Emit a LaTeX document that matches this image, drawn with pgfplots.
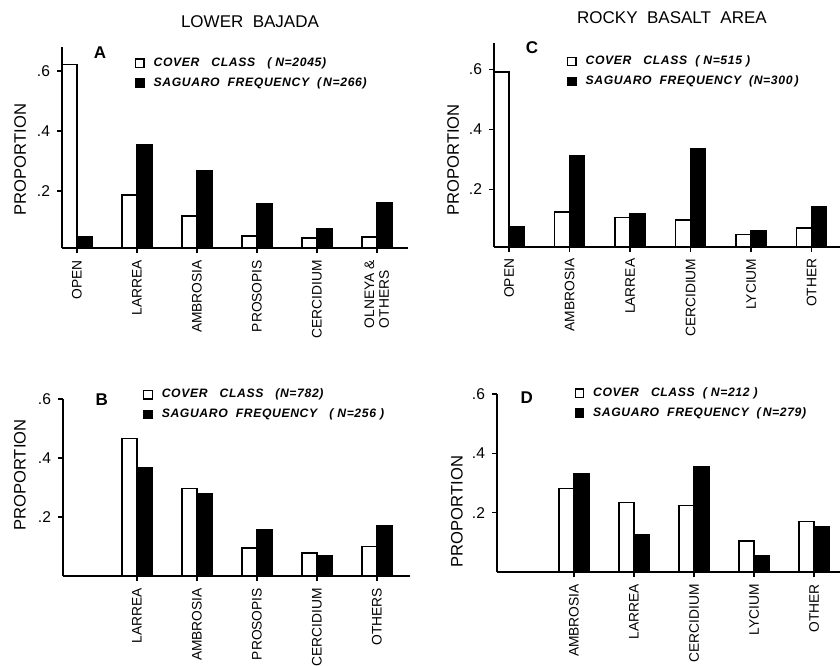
\documentclass[border=0pt]{standalone}
\usepackage{fontspec}
\setmainfont{Liberation Sans}
\newfontfamily\legfont[LetterSpace=5]{Liberation Sans}
\usepackage{pgfplots}
\pgfplotsset{compat=1.18}
\pgfplotsset{
  panel/.style={
    scale only axis, clip mode=individual,
    axis x line=bottom, axis y line=left,
    axis line style={-, line width=1pt, black},
    enlargelimits=false,
    ybar=0pt, bar width=7.5pt,
    tick align=outside, major tick length=2.5pt,
    tick style={black, line width=0.8pt},
    ytick={0.2,0.4,0.6}, yticklabels={.2,.4,.6},
    yticklabel style={font=\fontsize{7.8}{8}\selectfont},
    xticklabel style={rotate=90, anchor=east, align=left, font=\fontsize{6.9}{7.4}\selectfont},
    legend style={draw=none, fill=none, inner sep=0pt, row sep=2.0pt,
      font=\fontsize{6.1}{6.8}\selectfont\legfont\bfseries\itshape,
      nodes={inner sep=1pt},
      /tikz/every odd column/.append style={column sep=3.5pt}},
    legend cell align=left,
    legend image code/.code={\draw[#1, line width=0.6pt] (0pt,-2pt) rectangle (4.2pt,2.2pt);},
  },
  wbar/.style={fill=white, draw=black, line width=0.8pt},
  bbar/.style={fill=black, draw=black, line width=0.8pt},
}
\begin{document}
\begin{tikzpicture}
\useasboundingbox (0,0) rectangle (420pt,332.5pt);
% Panel A
\begin{axis}[panel, at={(31pt,208.5pt)}, anchor=south west,
  width=173pt, height=100.5pt,
  xmin=-0.25, xmax=5.52, ymin=0.01, ymax=0.68,
  xtick={0,1,2,3,4,5},
  xticklabels={OPEN,LARREA,AMBROSIA,PROSOPIS,CERCIDIUM,{OLNEYA \&\\OTHERS}},
  ylabel={PROPORTION},
  ylabel style={at={(axis description cs:-0.121,0.44)}, anchor=center, font=\fontsize{8.3}{9}\selectfont},
  legend style={at={(axis description cs:0.21,0.96)}, anchor=north west},
]
\addplot[wbar] coordinates {(0,0.622) (1,0.187) (2,0.117) (3,0.050) (4,0.043) (5,0.046)};
\addplot[bbar] coordinates {(0,0.046) (1,0.353) (2,0.268) (3,0.159) (4,0.073) (5,0.162)};
\legend{COVER\ \ \ CLASS\ \ \ (\ N=2045),SAGUARO\ \ FREQUENCY\ \ (\,N=266)}
\node[font=\bfseries\fontsize{8.5}{9}\selectfont] at (axis description cs:0.11,0.97) {A};
\end{axis}
% Panel C
\begin{axis}[panel, at={(247pt,209.2pt)}, anchor=south west,
  width=173pt, height=101.7pt,
  xmin=-0.25, xmax=5.47, ymin=0.009, ymax=0.687,
  xtick={0,1,2,3,4,5},
  xticklabels={OPEN,AMBROSIA,LARREA,CERCIDIUM,LYCIUM,OTHER},
  ylabel={PROPORTION},
  ylabel style={at={(axis description cs:-0.118,0.426)}, anchor=center, font=\fontsize{8.3}{9}\selectfont},
  legend style={at={(axis description cs:0.21,0.95)}, anchor=north west},
]
\addplot[wbar] coordinates {(0,0.592) (1,0.124) (2,0.106) (3,0.098) (4,0.050) (5,0.072)};
\addplot[bbar] coordinates {(0,0.076) (1,0.311) (2,0.119) (3,0.334) (4,0.062) (5,0.142)};
\legend{COVER\ \ \ CLASS\ \ (\ N=515\ ),SAGUARO\ \ FREQUENCY\ \ (N=300\,)}
\node[font=\bfseries\fontsize{8.5}{9}\selectfont] at (axis description cs:0.11,0.977) {C};
\end{axis}
% Panel B
\begin{axis}[panel, at={(31.5pt,44.5pt)}, anchor=south west,
  width=173.5pt, height=88.5pt,
  xmin=-0.23, xmax=5.55, ymin=0, ymax=0.6,
  xtick={1,2,3,4,5},
  xticklabels={LARREA,AMBROSIA,PROSOPIS,CERCIDIUM,OTHERS},
  ylabel={PROPORTION},
  ylabel style={at={(axis description cs:-0.124,0.57)}, anchor=center, font=\fontsize{8.3}{9}\selectfont},
  legend style={at={(axis description cs:0.23,1.07)}, anchor=north west},
]
\addplot[wbar] coordinates {(1,0.466) (2,0.296) (3,0.095) (4,0.077) (5,0.100)};
\addplot[bbar] coordinates {(1,0.368) (2,0.277) (3,0.155) (4,0.068) (5,0.171)};
\legend{COVER\ \ \ CLASS\ \ \ (N=782),SAGUARO\ \ FREQUENCY\ \ \ (\ N=256\ )}
\node[font=\bfseries\fontsize{8.5}{9}\selectfont] at (axis description cs:0.112,0.994) {B};
\end{axis}
% Panel D
\begin{axis}[panel, at={(248.5pt,46.5pt)}, anchor=south west,
  width=171.5pt, height=89pt,
  xmin=-0.28, xmax=5.43, ymin=0, ymax=0.6,
  xtick={1,2,3,4,5},
  xticklabels={AMBROSIA,LARREA,CERCIDIUM,LYCIUM,OTHER},
  ylabel={PROPORTION},
  ylabel style={at={(axis description cs:-0.117,0.34)}, anchor=center, font=\fontsize{8.3}{9}\selectfont},
  legend style={at={(axis description cs:0.225,1.05)}, anchor=north west},
]
\addplot[wbar] coordinates {(1,0.282) (2,0.234) (3,0.224) (4,0.104) (5,0.170)};
\addplot[bbar] coordinates {(1,0.330) (2,0.127) (3,0.355) (4,0.056) (5,0.151)};
\legend{COVER\ \ \ CLASS\ \ (\ N=212\ ),SAGUARO\ \ FREQUENCY\ \ (\,N=279)}
\node[font=\bfseries\fontsize{8.5}{9}\selectfont] at (axis description cs:0.087,0.978) {D};
\end{axis}
\node[font=\fontsize{8.5}{10}\selectfont] at (125pt,321.5pt) {LOWER\ \ BAJADA};
\node[font=\fontsize{8.5}{10}\selectfont] at (336pt,323.5pt) {ROCKY\ \ BASALT\ \ AREA};
\end{tikzpicture}
\end{document}
